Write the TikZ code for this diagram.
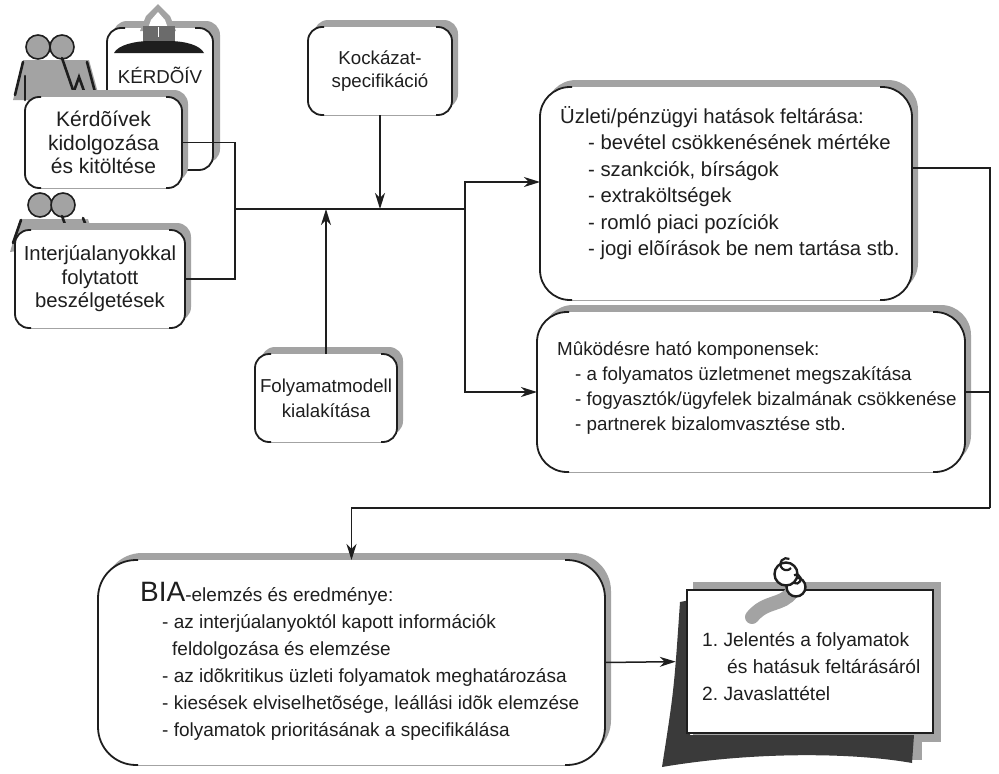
\documentclass[tikz,border=0pt]{standalone}
\usepackage{fontspec}
\setmainfont{Liberation Sans}
\usetikzlibrary{arrows.meta}
\definecolor{ink}{HTML}{1E1E1E}
\definecolor{halftone}{HTML}{A3A3A3}
\definecolor{paper}{HTML}{3A3A3A}
\newcommand\fs[2]{\fontsize{#1}{#2}\selectfont}
% black side brackets of a rounded box, plus its faint bottom rule
\newcommand\bracketbox[2]{%
  \draw[draw=halftone,line width=0.8pt] ([xshift=#2]#1.south west) -- ([xshift=-#2]#1.south east);
  \draw[edge,rounded corners=#2] ([xshift=#2+2pt]#1.north west) -- (#1.north west) -- (#1.south west) -- ([xshift=#2+2pt]#1.south west);
  \draw[edge,rounded corners=#2] ([xshift=-#2-2pt]#1.north east) -- (#1.north east) -- (#1.south east) -- ([xshift=-#2-2pt]#1.south east);}
\begin{document}
\begin{tikzpicture}[x=1pt,y=-1pt,
  edge/.style={draw=ink,line width=1.8pt},
  link/.style={draw=ink,line width=1.5pt},
  arr/.style={link,-{Stealth[length=16pt,width=10pt,inset=5pt]}},
  box/.style={rectangle,rounded corners=#1,fill=white,outer sep=0pt,inner sep=0pt,
    align=center,text=ink,
    preaction={fill=halftone,transform canvas={xshift=6pt,yshift=7pt}}},
  list/.style={inner sep=0pt,align=left,anchor=west,text=ink},
  head/.style={fill=halftone,draw=ink,line width=1.6pt},
  limb/.style={draw=ink,line width=2.6pt,line cap=round},
]
\useasboundingbox (0,0) rectangle (999,774);

% ---- clipboard "KÉRDÕÍV" ----
\fill[halftone,rounded corners=14pt] (113,21) rectangle (220,163);
\fill[white,rounded corners=14pt] (107,28) rectangle (213,170);
\draw[edge,rounded corners=14pt] (125,28) -- (107,28) -- (107,100);
\draw[edge,rounded corners=14pt] (195,28) -- (213,28) -- (213,170) -- (185,170);
\fill[halftone] (140,31) -- (146,16) -- (158,4) -- (170,16) -- (176,31) -- cycle;
\fill[white] (147,31) -- (151,20) -- (158,12) -- (165,20) -- (169,31) -- cycle;
\fill[paper!75] (143,26) rectangle (175,42);
\draw[white,line width=1pt] (158,27) -- (158,37);
\fill[ink] (114,53) .. controls (118,45) and (135,41) .. (150,41) -- (168,41)
  .. controls (185,41) and (200,45) .. (204,53) -- cycle;
\node[inner sep=0pt,text=ink,font=\fs{18.7}{22}] (kv) at (160,75) {KÉRDÕÍV};

% ---- first pair of figures ----
\fill[halftone] (13,100) -- (23,60) -- (89,60) -- (100,100) -- cycle;
\draw[head] (38,47) circle (12);
\draw[head] (62,47) circle (12);
\draw[limb] (23,62) -- (15,95);
\draw[limb] (25,76) -- (25,100);
\draw[limb] (62,58) -- (73,90);
\draw[limb] (74,91) -- (79,77) -- (84,91);
\draw[limb] (87,62) -- (95,92);

% ---- second pair of figures ----
\fill[halftone] (10,252) -- (20,219) -- (88,219) -- (95,240) -- cycle;
\draw[head] (40,205) circle (12);
\draw[head] (63,205) circle (12);
\draw[limb] (21,220) -- (13,243);
\draw[limb] (26,233) .. controls (20,238) and (18,246) .. (18,256);
\draw[limb] (62,216) -- (66,227);
\draw[limb] (83,218) -- (87,228);

% ---- left boxes ----
\node[box=14pt,minimum width=157pt,minimum height=91pt,font=\fs{21}{23.5}] (kerd) at (103.5,142.5)
  {Kérdõívek\\kidolgozása\\és kitöltése};
\node[box=14pt,minimum width=170pt,minimum height=98pt,font=\fs{20.3}{23.5}] (intj) at (100,279)
  {Interjúalanyokkal\\folytatott\\beszélgetések};

% ---- top and bottom inputs ----
\node[box=14pt,minimum width=144pt,minimum height=88pt,font=\fs{18.7}{23}] (kock) at (380,71)
  {Kockázat-\\specifikáció};
\node[box=14pt,minimum width=142pt,minimum height=88pt,font=\fs{18.7}{25}] (foly) at (326,398)
  {Folyamatmodell\\kialakítása};

% ---- impact boxes ----
\node[box=30pt,minimum width=372pt,minimum height=213pt] (uzl) at (726,193.5) {};
\node[list,font=\fs{20.3}{26.5}] (uzlt) at (560,183)
  {Üzleti/pénzügyi hatások feltárása:\\
   \hspace*{28pt}- bevétel csökkenésének mértéke\\
   \hspace*{28pt}- szankciók, bírságok\\
   \hspace*{28pt}- extraköltségek\\
   \hspace*{28pt}- romló piaci pozíciók\\
   \hspace*{28pt}- jogi elõírások be nem tartása stb.};
\node[box=30pt,minimum width=428pt,minimum height=160pt] (mk) at (751,392) {};
\node[list,font=\fs{18.8}{25}] (mkt) at (557,388)
  {Mûködésre ható komponensek:\\
   \hspace*{18pt}- a folyamatos üzletmenet megszakítása\\
   \hspace*{18pt}- fogyasztók/ügyfelek bizalmának csökkenése\\
   \hspace*{18pt}- partnerek bizalomvasztése stb.};

% ---- BIA box ----
\node[box=38pt,minimum width=507pt,minimum height=205pt] (bia) at (351.5,662.5) {};
\node[list,font=\fs{19}{27}] (biat) at (140,661)
  {{\fontsize{28}{27}\selectfont BIA}-elemzés és eredménye:\\
   \hspace*{22pt}- az interjúalanyoktól kapott információk\\
   \hspace*{32pt}feldolgozása és elemzése\\
   \hspace*{22pt}- az idõkritikus üzleti folyamatok meghatározása\\
   \hspace*{22pt}- kiesések elviselhetõsége, leállási idõk elemzése\\
   \hspace*{22pt}- folyamatok prioritásának a specifikálása};

\foreach \b/\r in {kerd/14pt,intj/14pt,kock/14pt,foly/14pt,uzl/30pt,mk/30pt,bia/38pt}
  {\bracketbox{\b}{\r}}

% ---- report note ----
\fill[halftone] (693,582) rectangle (941,742);
\fill[halftone] (900,735) rectangle (922,760);
\fill[paper] (690,600) -- (680,602) .. controls (674,690) .. (662,767)
  .. controls (750,752) and (850,752) .. (912,763) -- (914,735) -- (690,735) -- cycle;
\node[draw=ink,line width=2.6pt,fill=white,minimum width=246pt,minimum height=143pt] (note) at (810,661.5) {};
\draw[draw=halftone,line width=14pt,line cap=round] (792,592) .. controls (782,606) and (766,600) .. (752,617);
\draw[ink,line width=2.4pt,fill=white] (796,587) circle (9.5);
\draw[ink,line width=2.4pt,fill=white] (786,574) circle (11.5);
\draw[ink,line width=2.2pt] (791,568) arc[start angle=40,end angle=300,radius=6];
\draw[ink,line width=2.2pt] (794,583) arc[start angle=120,end angle=-120,radius=4.5];
\node[list,font=\fs{19.2}{27}] (notet) at (702,667)
  {1.\ Jelentés a folyamatok\\
   \hspace*{25pt}és hatásuk feltárásáról\\
   2.\ Javaslattétel};

% ---- connectors ----
\coordinate (jl) at (235,209);
\coordinate (jr) at (465,209);
\coordinate (ua) at (465,182);
\coordinate (rv) at (990,168);
\coordinate (rb) at (990,508);
\draw[link] (kerd.east) -| (jl);
\draw[link] (intj.east) -| (jl);
\draw[link] (jl) -- (jr);
\draw[arr] (kock.south) -- (kock.south |- jl);
\draw[arr] (foly.north) -- (foly.north |- jl);
\draw[arr] (jr) -- (ua) -- (ua -| uzl.west);
\draw[arr] (jr) |- (mk.west);
\draw[link] (rv -| uzl.east) -- (rv) -- (rb);
\draw[link] (mk.east) -- (mk.east -| rv);
\draw[arr] (rb) -| (bia.north);
\draw[arr,shorten >=10pt] (bia.east) -- (note.west);
\end{tikzpicture}
\end{document}
